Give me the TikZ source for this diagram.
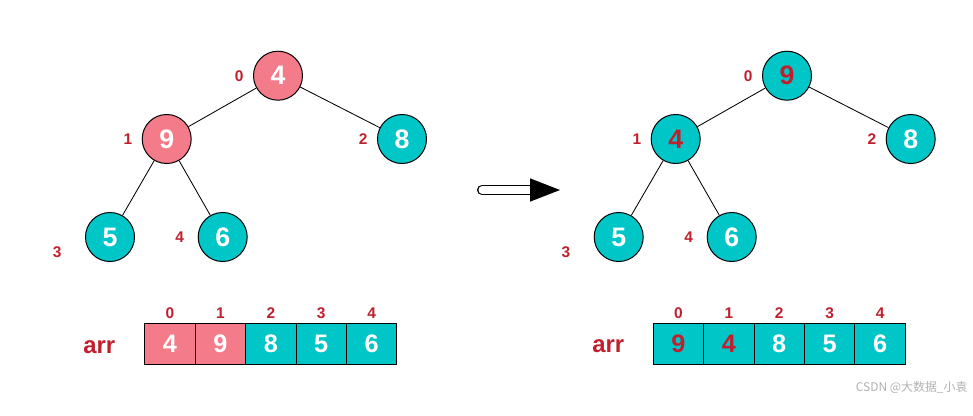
\documentclass[tikz,border=0pt]{standalone}
\usepackage{fontspec}
\setmainfont{Liberation Sans}
\newfontfamily\cjk{Noto Sans CJK SC}
\usetikzlibrary{positioning}
\definecolor{heappink}{RGB}{243,123,138}
\definecolor{heapteal}{RGB}{0,198,200}
\definecolor{idxred}{RGB}{192,32,45}

\begin{document}
\begin{tikzpicture}[
  x=0.025cm, y=-0.025cm,
  node distance=-0.7pt,
  vtx/.style={circle, draw, line width=0.7pt, minimum size=1.225cm, inner sep=0pt, font=\fontsize{19}{19}\selectfont\bfseries, text=white},
  pinkvtx/.style={vtx, fill=heappink},
  tealvtx/.style={vtx, fill=heapteal},
  idx/.style={text=idxred, font=\fontsize{11}{11}\selectfont\bfseries, inner sep=1pt},
  cell/.style={rectangle, draw, line width=0.7pt, minimum width=1.26cm, minimum height=1.025cm, inner sep=0pt, font=\fontsize{18}{18}\selectfont\bfseries, text=white},
  pinkcell/.style={cell, fill=heappink},
  tealcell/.style={cell, fill=heapteal},
  arrlabel/.style={text=idxred, font=\fontsize{17}{17}\selectfont\bfseries, inner sep=0pt},
  edge/.style={line width=0.6pt}
]
\useasboundingbox (0,0) rectangle (973,415);

% left tree (before swap)
\node[pinkvtx] (l4) at (278,75.7) {4};
\node[pinkvtx] (l9) at (166.7,139) {9};
\node[tealvtx] (l8) at (402,139) {8};
\node[tealvtx] (l5) at (110,237) {5};
\node[tealvtx] (l6) at (222.7,237) {6};

\node[idx, left=5.5pt of l4] (li0) {0};
\node[idx, left=5.5pt of l9] (li1) {1};
\node[idx, left=5.5pt of l8] (li2) {2};
\node[idx, left=15.5pt of l5, yshift=-11pt] (li3) {3};
\node[idx, left=8.5pt of l6] (li4) {4};

\draw[edge] (l4) -- (l9);
\draw[edge] (l4) -- (l8);
\draw[edge] (l9) -- (l5);
\draw[edge] (l9) -- (l6);

% right tree (after swap)
\node[tealvtx, text=idxred] (r9) at (787,75.7) {9};
\node[tealvtx, text=idxred] (r4) at (675.7,139) {4};
\node[tealvtx] (r8) at (910.7,139) {8};
\node[tealvtx] (r5) at (618.7,237) {5};
\node[tealvtx] (r6) at (731.7,237) {6};

\node[idx, left=5.5pt of r9] (ri0) {0};
\node[idx, left=5.5pt of r4] (ri1) {1};
\node[idx, left=5.5pt of r8] (ri2) {2};
\node[idx, left=15.5pt of r5, yshift=-11pt] (ri3) {3};
\node[idx, left=8.5pt of r6] (ri4) {4};

\draw[edge] (r9) -- (r4);
\draw[edge] (r9) -- (r8);
\draw[edge] (r4) -- (r5);
\draw[edge] (r4) -- (r6);

% transition arrow
\coordinate (shaftL) at (482,190);
\coordinate (shaftR) at (534,190);
\draw[line width=1.1pt, double, double distance=5pt, line cap=round] (shaftL) -- (shaftR);
\fill (530,178.3) -- (560,190) -- (530,201.7) -- cycle;

% left array
\node[arrlabel] (larr) at (99.3,346.7) {arr};
\node[pinkcell, anchor=west] (la0) at (144.3,343.8) {4};
\node[pinkcell, right=of la0] (la1) {9};
\node[tealcell, right=of la1] (la2) {8};
\node[tealcell, right=of la2] (la3) {5};
\node[tealcell, right=of la3] (la4) {6};
\node[idx, above=2pt of la0] {0};
\node[idx, above=2pt of la1] {1};
\node[idx, above=2pt of la2] {2};
\node[idx, above=2pt of la3] {3};
\node[idx, above=2pt of la4] {4};

% right array
\node[arrlabel] (rarr) at (608.3,346) {arr};
\node[tealcell, text=idxred, anchor=west] (ra0) at (652.7,343.8) {9};
\node[tealcell, text=idxred, right=of ra0] (ra1) {4};
\node[tealcell, right=of ra1] (ra2) {8};
\node[tealcell, right=of ra2] (ra3) {5};
\node[tealcell, right=of ra3] (ra4) {6};
\node[idx, above=2pt of ra0] {0};
\node[idx, above=2pt of ra1] {1};
\node[idx, above=2pt of ra2] {2};
\node[idx, above=2pt of ra3] {3};
\node[idx, above=2pt of ra4] {4};

\node[text=gray!60, font=\cjk\fontsize{8.5}{8.5}\selectfont] (mark) at (911.7,387.3) {CSDN @大数据\_小袁};
\end{tikzpicture}
\end{document}
